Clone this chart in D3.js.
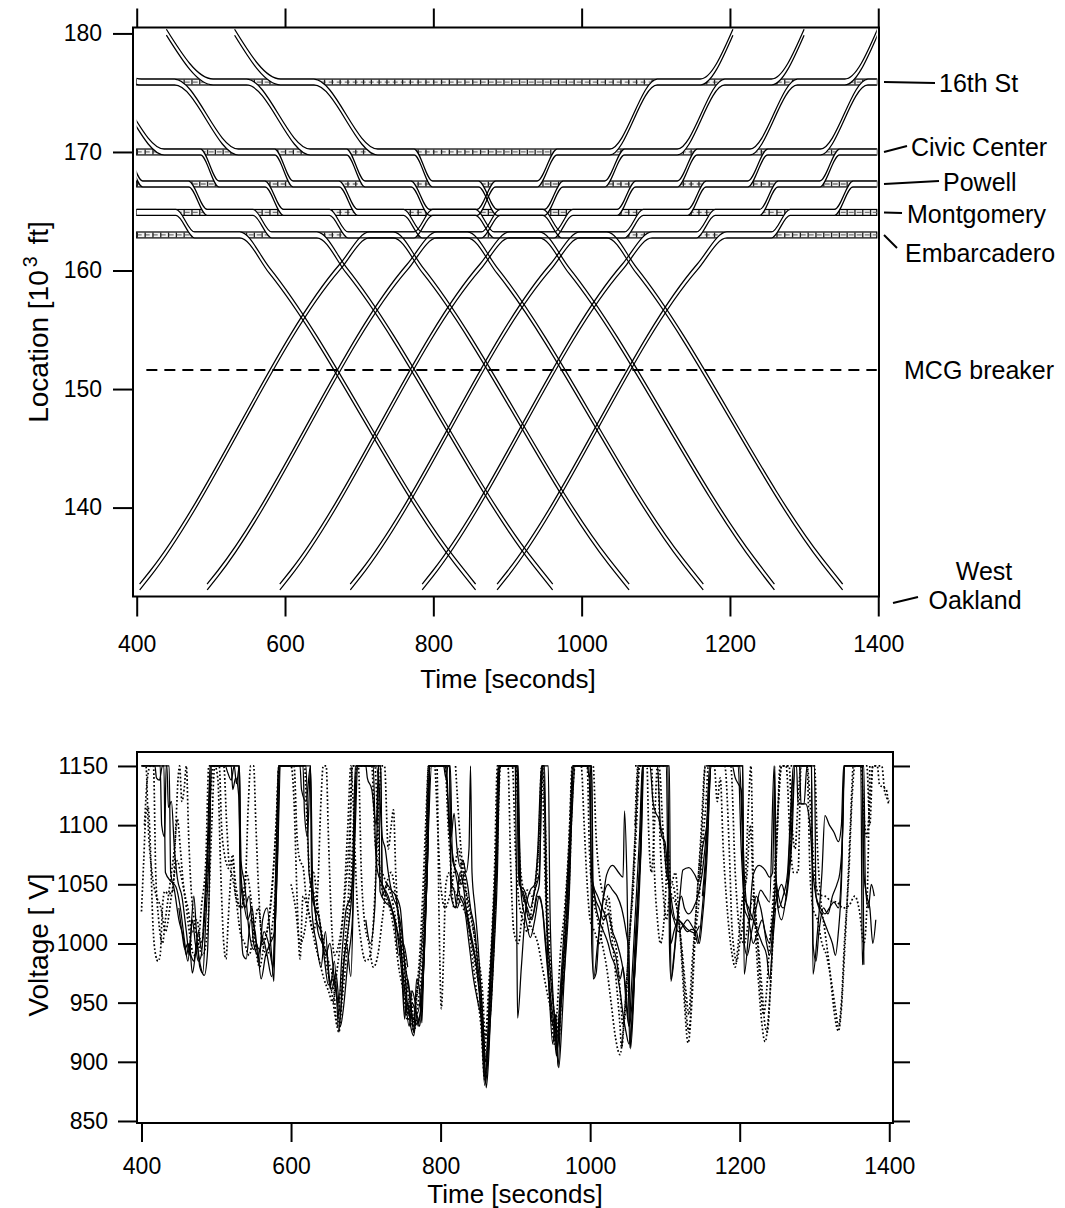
<!DOCTYPE html>
<html>
<head>
<meta charset="utf-8">
<script src="https://cdn.jsdelivr.net/npm/d3@7"></script>
<style>
  body { margin: 0; background: #fff; }
  svg text { font-family: "Liberation Sans", Arial, Helvetica, sans-serif; fill: #000; }
</style>
</head>
<body>
<svg id="chart" width="1065" height="1208"></svg>
<script>
// ---------- data ----------
const stationNames = ["16th St", "Civic Center", "Powell", "Montgomery", "Embarcadero"];
const stationLocs  = [175.9, 170.0, 167.3, 164.9, 163.0];   // 10^3 ft
const breakerLoc   = 151.6;
const platformLen  = 0.5;                                    // 10^3 ft

const timeTicks = [400, 600, 800, 1000, 1200, 1400];
const locTicks  = [140, 150, 160, 170, 180];
const voltTicks = [850, 900, 950, 1000, 1050, 1100, 1150];

// train runs toward West Oakland: [time s, location 10^3 ft]
const trainsToOakland = [
  [[36,180.1],[99,175.9],[144,175.9],[230,170.0],[279,170.0],[304,167.3],[366,167.3],[391,164.9],[453,164.9],[478,163.0],[539,163.0],[579,160.0],[829,135.5],[857,133.3]],
  [[140,180.1],[203,175.9],[248,175.9],[334,170.0],[383,170.0],[408,167.3],[470,167.3],[495,164.9],[557,164.9],[582,163.0],[643,163.0],[683,160.0],[933,135.5],[961,133.3]],
  [[243,180.1],[306,175.9],[351,175.9],[437,170.0],[486,170.0],[511,167.3],[573,167.3],[598,164.9],[660,164.9],[685,163.0],[746,163.0],[786,160.0],[1036,135.5],[1064,133.3]],
  [[343,180.1],[406,175.9],[451,175.9],[537,170.0],[586,170.0],[611,167.3],[673,167.3],[698,164.9],[760,164.9],[785,163.0],[846,163.0],[886,160.0],[1136,135.5],[1164,133.3]],
  [[440,180.1],[503,175.9],[548,175.9],[634,170.0],[683,170.0],[708,167.3],[770,167.3],[795,164.9],[857,164.9],[882,163.0],[943,163.0],[983,160.0],[1233,135.5],[1260,133.3]],
  [[532,180.1],[594,175.9],[639,175.9],[725,170.0],[774,170.0],[799,167.3],[861,167.3],[886,164.9],[948,164.9],[973,163.0],[1034,163.0],[1074,160.0],[1324,135.5],[1352,133.3]]
];

// train runs toward 16th St
const trainsTo16th = [
  [[404,133.3],[418,134.4],[674,160.3],[714,163.0],[774,163.0],[799,164.9],[859,164.9],[884,167.3],[940,167.3],[967,170.0],[1038,170.0],[1102,175.9],[1160,175.9],[1204,180.1]],
  [[495,133.3],[509,134.4],[765,160.3],[805,163.0],[865,163.0],[890,164.9],[950,164.9],[975,167.3],[1031,167.3],[1058,170.0],[1129,170.0],[1193,175.9],[1256,175.9],[1300,180.1]],
  [[593,133.3],[607,134.4],[863,160.3],[903,163.0],[963,163.0],[988,164.9],[1048,164.9],[1073,167.3],[1129,167.3],[1156,170.0],[1227,170.0],[1291,175.9],[1355,175.9],[1399,180.1]],
  [[688,133.3],[702,134.4],[958,160.3],[998,163.0],[1058,163.0],[1083,164.9],[1143,164.9],[1168,167.3],[1224,167.3],[1251,170.0],[1322,170.0],[1386,175.9],[1444,175.9]],
  [[785,133.3],[799,134.4],[1055,160.3],[1095,163.0],[1155,163.0],[1180,164.9],[1240,164.9],[1265,167.3],[1321,167.3],[1348,170.0],[1419,170.0]],
  [[886,133.3],[900,134.4],[1156,160.3],[1196,163.0],[1256,163.0],[1281,164.9],[1341,164.9],[1366,167.3],[1422,167.3]]
];

// pantograph voltage traces: [time s, volts]
const voltSolid = [
  [[400,1150],[430,1150],[432,1060],[440,1052],[446,1048],[452,1030],[458,1000],[462,985],[466,1010],[470,1040],[474,1005],[480,978],[484,973],[488,990],[491,1060],[493,1150],[530,1150],[532,1044],[536,990],[540,987],[546,1020],[552,1010],[557,982],[562,1020],[568,1030],[574,990],[577,968],[580,1060],[583,1150],[626,1150],[628,1027],[634,1000],[640,980],[646,1010],[652,962],[658,985],[664,925],[668,960],[674,1000],[680,972],[684,1060],[687,1150],[717,1150],[719,1044],[726,1035],[734,1030],[742,1010],[748,975],[752,936],[756,970],[760,950],[764,925],[768,970],[772,960],[775,933],[778,1000],[783,1080],[785,1150],[812,1150],[814,1040],[820,1030],[826,1060],[830,1050],[836,1020],[842,1000],[848,980],[854,940],[859,880],[864,930],[868,990],[872,1040],[876,1100],[878,1150],[903,1150],[905,1050],[912,1045],[920,1030],[926,1045],[932,1060],[936,1150],[939,1150],[942,1020],[946,950],[950,915],[954,940],[957,896],[961,950],[966,1000],[972,1050],[976,1150],[1000,1150],[1002,1000],[1005,972],[1010,1000],[1016,1030],[1022,1058],[1030,1066],[1038,1060],[1044,1056],[1046,1112],[1049,1060],[1053,912],[1058,960],[1064,1020],[1068,1080],[1071,1150],[1106,1150],[1108,968],[1114,1000],[1120,1040],[1124,1062],[1132,1064],[1140,1058],[1145,1052],[1150,1080],[1156,1100],[1162,1150],[1204,1150],[1206,974],[1212,1010],[1218,1058],[1226,1066],[1234,1062],[1240,1056],[1244,1060],[1247,1150],[1249,1040],[1256,1020],[1262,1040],[1268,1080],[1274,1150],[1296,1150],[1298,974],[1304,1010],[1310,1060],[1314,1108],[1320,1100],[1326,1094],[1332,1086],[1336,1100],[1339,1150],[1364,1150],[1366,982]],
  [[400,1150],[418,1150],[420,1140],[424,1138],[428,1150],[434,1150],[436,1115],[440,1120],[444,1080],[448,1055],[454,1040],[460,1010],[464,990],[468,1020],[472,1000],[476,985],[480,990],[484,1030],[488,1080],[492,1150],[520,1150],[522,1130],[526,1140],[530,1125],[533,1050],[538,1030],[544,1040],[550,1000],[556,990],[562,1005],[568,990],[574,972],[578,1000],[582,1080],[585,1150],[620,1150],[624,1060],[630,1040],[636,1010],[642,1000],[648,990],[654,960],[660,975],[666,940],[670,980],[676,1010],[682,1050],[686,1150],[710,1150],[713,1080],[716,1060],[722,1050],[728,1040],[734,1030],[740,1015],[746,1000],[752,960],[758,930],[762,950],[768,940],[774,960],[780,1040],[786,1150],[808,1150],[811,1100],[815,1080],[820,1060],[826,1040],[832,1030],[838,1000],[844,970],[850,950],[856,930],[860,890],[864,920],[868,980],[874,1050],[880,1150],[900,1150],[902,1000],[903,937],[908,980],[914,1030],[920,1045],[926,1050],[930,1080],[935,1150],[938,1150],[941,1040],[946,980],[952,940],[956,920],[960,960],[966,1020],[972,1080],[978,1150],[1000,1150]],
  [[450,1030],[454,1010],[458,995],[462,1000],[466,990],[470,985],[474,1000],[478,980],[482,975],[486,1020],[490,1070],[494,1150],[524,1150],[527,1135],[531,1150],[533,1060],[536,1040],[542,1020],[548,1030],[552,1005],[558,995],[564,1010],[570,1000],[576,980],[579,1050],[585,1150],[616,1150],[618,1110],[622,1090],[626,1150],[628,1040],[632,1030],[638,1020],[644,990],[650,965],[656,970],[662,950],[666,930],[670,945],[676,985],[682,1020],[688,1150],[714,1150],[718,1130],[722,1090],[726,1080],[730,1060],[736,1040],[742,1030],[748,1010],[752,985],[758,960],[764,930],[770,935],[774,945],[778,990],[782,1060],[786,1150],[812,1150],[814,1050],[818,1045],[822,1030],[828,1040],[834,1030],[840,1010],[846,990],[852,960],[856,920],[860,882],[864,910],[868,950],[872,1000],[876,1060],[879,1150],[904,1150],[906,1050],[912,1040],[918,1020],[924,1025],[930,1040],[936,1030],[942,990],[948,950],[952,930],[956,910],[960,940],[966,980],[972,1040],[978,1150],[998,1150],[1002,1060],[1006,1040],[1012,1030],[1018,1020],[1024,1025],[1030,1010],[1036,1000],[1042,985],[1048,960],[1052,930],[1056,950],[1060,1000],[1066,1060],[1071,1150],[1090,1150],[1094,1100],[1098,1090],[1102,1060],[1106,1050],[1108,1000],[1112,1010],[1118,1020],[1124,1015],[1130,1010],[1136,1012],[1142,1010],[1146,1000],[1150,1020],[1156,1070],[1162,1150],[1198,1150],[1202,1080],[1206,1040],[1212,1030],[1218,1020],[1224,1010],[1230,1000],[1236,990],[1240,970],[1244,1000],[1248,1030]],
  [[700,1020],[706,1000],[712,1030],[718,1150],[720,1150],[722,1040],[728,1050],[734,1045],[740,1040],[744,1020],[748,990],[752,940],[756,950],[760,930],[764,922],[768,940],[772,930],[776,960],[780,1020],[784,1100],[788,1150],[806,1150],[810,1120],[814,1090],[818,1110],[822,1080],[826,1065],[830,1070],[834,1060],[838,1080],[840,1150],[842,1060],[846,1030],[850,1000],[854,960],[858,920],[861,878],[864,900],[868,960],[872,1020],[876,1100],[880,1150],[902,1150],[904,1060],[910,1040],[916,1030],[922,1020],[928,1040],[932,1050],[936,1150],[944,1150],[946,1040],[950,960],[954,925],[958,895],[962,930],[966,980],[970,1040],[975,1100],[980,1150],[1002,1150],[1004,970],[1008,975],[1012,1010],[1018,1040],[1024,1050],[1030,1045],[1036,1040],[1042,1030],[1048,1010],[1052,990],[1054,911],[1058,950],[1062,1020],[1068,1080],[1072,1150],[1080,1150],[1084,1120],[1088,1110],[1092,1105],[1096,1090],[1100,1086],[1104,1060],[1106,1048],[1108,1030],[1112,1020],[1118,1010],[1124,1015],[1130,1020],[1136,1015],[1140,1010],[1144,1000],[1150,1030],[1156,1080],[1162,1150],[1190,1150],[1194,1140],[1198,1135],[1202,1130],[1206,1060],[1210,1030],[1216,1020],[1222,1040],[1228,1030],[1234,1010],[1240,1000],[1244,1020],[1250,1040],[1256,1050],[1262,1040],[1268,1100],[1272,1150],[1280,1150],[1282,1118],[1288,1118],[1294,1100],[1298,1060],[1302,1040],[1308,1030],[1314,1025],[1320,1030],[1326,1035],[1332,1030],[1336,1060],[1340,1150],[1366,1150],[1368,1050],[1372,1030],[1376,1050],[1380,1040]],
  [[1000,1060],[1004,1050],[1008,1030],[1012,1020],[1018,1010],[1024,1000],[1028,990],[1034,980],[1040,960],[1044,940],[1048,925],[1052,915],[1056,935],[1060,980],[1064,1040],[1068,1100],[1070,1150],[1104,1150],[1106,1000],[1108,970],[1112,990],[1118,1030],[1122,1040],[1126,1030],[1132,1025],[1138,1030],[1144,1040],[1150,1060],[1156,1100],[1160,1150],[1204,1150],[1206,1000],[1210,990],[1216,1010],[1222,1030],[1228,1045],[1234,1040],[1240,1035],[1246,1150],[1248,1060],[1252,1040],[1258,1030],[1264,1045],[1270,1090],[1274,1150],[1296,1150],[1298,1000],[1302,985],[1306,1010],[1312,1030],[1318,1025],[1324,1040],[1330,1050],[1334,1060],[1338,1100],[1340,1150],[1362,1150],[1364,982],[1366,1000]],
  [[400,1150],[425,1150],[427,1100],[431,1090],[433,1150],[437,1150],[439,1060],[444,1045],[450,1020],[456,1005],[460,990],[464,1000],[468,975],[472,990],[476,1010],[480,995],[486,1040],[490,1100],[492,1150],[512,1150],[515,1145],[520,1138],[524,1150],[531,1150],[533,1070],[538,1050],[544,1010],[550,995],[554,1000],[560,970],[566,990],[572,1000],[578,1010],[582,1070],[586,1150],[612,1150],[614,1130],[620,1120],[626,1150],[629,1050],[634,1020],[640,1010],[646,990],[652,1000],[658,970],[664,950],[668,990],[674,1030],[680,1040],[686,1100],[689,1150],[700,1150],[702,1140],[708,1130],[714,1100],[717,1150],[720,1150],[722,1050],[730,1040],[738,1020],[744,990],[750,1000],[756,980]],
  [[740,1040],[746,1030],[750,1000],[754,960],[758,940],[762,960],[766,950],[770,930],[774,950],[778,990],[782,1060],[786,1150],[804,1150],[807,1140],[810,1150],[813,1150],[816,1070],[822,1060],[828,1050],[832,1060],[836,1050],[840,1030],[846,1010],[850,980],[854,960],[857,930],[860,900],[863,920],[866,970],[870,1020],[874,1080],[877,1150],[902,1150],[905,1100],[908,1040],[914,1020],[920,1005],[926,1020],[932,1040],[936,1030],[940,1000],[944,970],[948,940],[952,925],[955,905],[958,930],[962,970],[968,1020],[974,1100],[978,1150],[996,1150],[999,1140],[1002,1150],[1004,1050],[1010,1040],[1016,1030],[1022,1020],[1028,1000],[1034,990],[1040,970],[1044,980],[1048,950],[1052,930],[1055,960],[1060,1020],[1066,1090],[1070,1150],[1102,1150],[1104,1060],[1108,1040],[1114,1020],[1120,1019],[1130,1012],[1140,1009],[1146,1015]],
  [[1150,1040],[1155,1080],[1160,1150],[1200,1150],[1203,1100],[1206,1030],[1212,1020],[1218,1000],[1224,1010],[1230,1020],[1236,1000],[1240,990],[1244,1010],[1248,1050],[1252,1030],[1258,1040],[1264,1060],[1268,1110],[1272,1150],[1276,1150],[1278,1118],[1286,1118],[1290,1150],[1300,1150],[1302,1040],[1306,1030],[1312,1020],[1318,1010],[1324,1000],[1328,990],[1332,1010],[1336,1050],[1340,1150],[1364,1150],[1366,1060],[1370,1040],[1374,1030],[1378,1000],[1382,1020]]
];

const voltDotted = [
  [[400,1027],[403,1070],[406,1110],[409,1115],[412,1080],[415,1020],[419,990],[422,985],[425,990],[428,1030],[431,1044],[436,1042],[442,1045],[446,1100],[449,1140],[451,1150],[454,1120],[457,1130],[460,1150],[463,1092],[466,1050],[470,1022],[476,1000],[482,990],[488,1010],[494,1100],[498,1150],[502,1140],[506,1060],[510,1000],[513,987],[516,1020],[518,1042],[522,1070],[526,1050],[532,1030],[538,1040],[543,1120],[546,1150],[550,1150],[553,1100],[557,1040],[562,1000],[568,1010],[574,1040],[580,1100],[584,1150],[600,1150],[604,1120],[608,1040],[612,987],[616,1040],[622,1030],[630,1010],[636,1050],[640,1120],[643,1150],[647,1150],[650,1090],[654,1020],[658,990],[664,1000],[670,1030],[676,1100],[680,1150],[683,1120],[688,1040],[694,1000],[700,985],[706,990],[712,1040],[716,1100],[720,1150]],
  [[700,1150],[725,1150],[730,1080],[734,1100],[737,1113],[740,1060],[744,1020],[748,1000],[752,970],[756,940],[760,960],[764,935],[768,960],[772,990],[776,1040],[780,1100],[784,1150],[795,1150],[798,1020],[801,945],[804,990],[807,1050],[812,1060],[818,1030],[824,1040],[830,1070],[836,1030],[842,1000],[848,975],[854,950],[858,905],[862,930],[866,970],[870,1010],[875,1080],[878,1150],[890,1150],[894,1060],[898,1010],[904,1000],[910,1030],[916,1045],[922,1040],[928,1050],[932,1100],[935,1150],[940,1050],[946,960],[950,930],[954,940],[958,920],[962,960],[966,1010],[970,1060],[974,1120],[977,1150],[996,1150],[999,1080],[1004,1040],[1010,1020],[1016,1000],[1022,980],[1028,950],[1034,920],[1040,906],[1044,925],[1048,960],[1052,1000],[1056,1040],[1060,1090],[1064,1150]],
  [[1060,1150],[1082,1150],[1086,1060],[1090,1020],[1094,1000],[1100,1030],[1104,1080],[1108,1050],[1114,1060],[1118,1030],[1122,990],[1126,950],[1131,916],[1136,950],[1140,1000],[1146,1040],[1150,1080],[1155,1120],[1158,1150],[1180,1150],[1186,1080],[1190,1010],[1196,985],[1200,1000],[1206,1030],[1212,1120],[1215,1150],[1218,1060],[1222,1000],[1226,960],[1230,930],[1234,917],[1238,935],[1242,975],[1246,1030],[1250,1090],[1254,1150],[1262,1150],[1268,1080],[1272,1060],[1278,1060],[1282,1150],[1300,1150],[1304,1080],[1308,1040],[1314,1010],[1320,980],[1324,955],[1328,935],[1332,926],[1336,945],[1340,990],[1344,1040],[1348,1100],[1352,1150],[1370,1150],[1374,1100],[1378,1150],[1384,1150],[1387,1134],[1392,1132],[1396,1130],[1399,1117]],
  [[820,1150],[826,1090],[832,1050],[838,1030],[844,1010],[850,990],[856,960],[860,920],[864,960],[868,1000],[872,1060],[876,1150],[900,1150],[906,1070],[912,1040],[918,1020],[924,1010],[930,1000],[936,980],[942,960],[948,940],[952,915],[956,945],[960,990],[966,1030],[972,1090],[976,1150],[988,1150],[992,1100],[996,1050],[1000,1020],[1006,1010],[1012,1000],[1018,1020],[1024,1040],[1030,1010],[1036,990],[1040,960],[1044,930],[1048,950],[1052,1000],[1058,1050],[1062,1100],[1066,1150],[1092,1150],[1098,1090],[1104,1050],[1110,1040],[1116,1030],[1122,1000],[1128,960],[1132,940],[1136,980],[1142,1030],[1148,1090],[1154,1150],[1188,1150],[1194,1060],[1200,1010],[1206,1000],[1212,1020],[1218,1040],[1224,1000],[1228,960],[1232,940],[1236,960],[1240,1000],[1246,1050],[1250,1100],[1256,1150],[1290,1150],[1296,1100],[1300,1060],[1306,1041],[1314,1040],[1322,1036],[1330,1035],[1338,1030],[1346,1032],[1354,1040],[1360,1028],[1366,1000],[1370,1030],[1374,1150]],
  [[402,1150],[406,1150],[409,1100],[414,1060],[420,1040],[426,1030],[432,1010],[440,1040],[448,1070],[452,1060],[458,1040],[464,1010],[470,990],[476,1000],[480,1030],[486,1070],[490,1150],[510,1150],[514,1100],[518,1065],[522,1075],[526,1040],[534,1030],[540,1060],[546,1040],[552,1000],[558,980],[564,1000],[570,1020],[576,1060],[580,1100],[584,1150],[618,1150],[622,1090],[626,1050],[632,1040],[638,1020],[644,1000],[650,985],[656,970],[662,930],[666,960],[672,1000],[678,1060],[682,1150],[712,1150],[716,1100],[720,1050],[726,1040],[732,1030],[738,1010],[744,980],[750,960],[756,935],[760,945],[764,925],[770,950],[776,990],[780,1060],[784,1150],[806,1150],[810,1100],[816,1050],[822,1040],[830,1030],[836,1020],[842,990],[848,960],[854,930],[859,885],[864,920],[870,980],[874,1050],[878,1150],[900,1150]],
  [[600,1050],[606,1030],[612,1000],[618,1010],[624,1040],[630,1060],[636,1030],[642,1000],[648,980],[654,960],[660,935],[664,925],[668,950],[674,990],[680,1050],[684,1110],[688,1150],[708,1150],[712,1090],[716,1070],[722,1060],[728,1050],[734,1040],[740,1020],[746,990],[752,960],[758,940],[762,930],[766,945],[772,980],[778,1040],[782,1110],[786,1150],[792,1150],[796,1100],[800,1050],[806,1030],[812,1040],[818,1060],[824,1080],[830,1050],[836,1040],[842,1020],[848,990],[852,960],[856,935],[860,900],[864,925],[868,960],[872,1010],[876,1080],[880,1150],[896,1150],[900,1080],[904,1040],[910,1020],[916,1010],[922,1030],[928,1060],[932,1090],[936,1150],[940,1100],[944,1020],[948,970],[952,940],[956,925],[960,950],[966,990],[972,1050],[976,1120],[980,1150],[1004,1150],[1008,1090],[1012,1060],[1018,1040],[1024,1030],[1030,1000],[1036,960],[1040,930],[1042,912],[1046,940],[1050,980],[1056,1040],[1062,1110],[1066,1150],[1100,1150]],
  [[1060,1100],[1064,1150],[1076,1150],[1078,1100],[1082,1060],[1086,1100],[1090,1150],[1094,1080],[1098,1040],[1102,1020],[1106,1040],[1110,1050],[1116,1030],[1120,1010],[1124,980],[1128,945],[1132,925],[1136,960],[1140,1010],[1144,1050],[1150,1100],[1154,1150],[1166,1150],[1170,1120],[1174,1140],[1178,1080],[1182,1040],[1186,1010],[1190,990],[1194,980],[1198,1000],[1204,1040],[1210,1060],[1214,1100],[1218,1050],[1222,1020],[1226,990],[1230,960],[1234,930],[1237,925],[1240,950],[1244,1000],[1248,1060],[1252,1120],[1256,1150],[1266,1150],[1270,1100],[1274,1080],[1278,1120],[1282,1150],[1290,1150],[1294,1060],[1298,1030],[1304,1020],[1310,1000],[1316,990],[1322,970],[1328,945],[1332,930],[1336,950],[1340,1000],[1346,1060],[1350,1120],[1354,1150],[1362,1150],[1366,1110],[1370,1090],[1374,1120],[1378,1150],[1390,1150],[1394,1128],[1400,1120]],
  [[404,1100],[408,1140],[412,1150],[416,1150],[419,1060],[423,1020],[428,1000],[432,1020],[438,1050],[444,1080],[448,1105],[452,1080],[456,1050],[462,1030],[468,1010],[474,1020],[480,1000],[486,1040],[492,1120],[496,1150],[504,1150],[507,1100],[511,1075],[515,1065],[520,1060],[526,1040],[532,1010],[538,1000],[544,990],[550,1010],[556,1030],[562,1000],[568,990],[574,1010],[580,1060],[584,1150],[604,1150],[608,1090],[612,1070],[616,1065],[620,1040],[626,1020],[632,1000],[638,985],[644,970],[650,960],[656,950],[660,970],[666,1000],[672,1040],[678,1090],[682,1150],[690,1150],[694,1060],[698,1020],[704,1000],[710,980],[716,990],[722,1020],[728,1050],[734,1060],[740,1040],[746,1010],[752,990],[756,960],[760,940],[764,935],[768,955],[774,990],[780,1060],[784,1150],[800,1150]]
];

// ---------- layout ----------
const svg = d3.select("#chart");
const FONT_TICK = 23, FONT_TITLE = 26, FONT_YTITLE = 28, FONT_LABEL = 25;
const fmt = d3.format("d");

const xTop = d3.scaleLinear().domain([395, 1401]).range([133, 879]);
const yLoc = d3.scaleLinear().domain([132.5, 180.5]).range([596.5, 27.5]);

const xBot = d3.scaleLinear().domain([394, 1405]).range([137, 893]);
const yVolt = d3.scaleLinear().domain([848.3, 1161.8]).range([1123, 752]);

function styleAxis(g, fs) {
  g.select(".domain").remove();
  g.selectAll(".tick line").attr("stroke", "#000").attr("stroke-width", 2);
  g.selectAll(".tick text").attr("font-size", fs).attr("fill", "#000")
    .attr("font-family", "'Liberation Sans', Arial, sans-serif");
}

// ---------- upper panel: train trajectories ----------
const gTop = svg.append("g");
const defs = svg.append("defs");
defs.append("clipPath").attr("id", "clipTrains").append("rect")
  .attr("x", xTop(400)).attr("y", yLoc(180.5)).attr("width", xTop(1398) - xTop(400)).attr("height", yLoc(132.5) - yLoc(180.5));
defs.append("clipPath").attr("id", "clipVolt").append("rect")
  .attr("x", 137).attr("y", 752).attr("width", 756).attr("height", 371);

// platforms
const half = platformLen / 2;
const plat = gTop.append("g");
stationLocs.forEach(loc => {
  const h = yLoc(loc - half) - yLoc(loc + half);
  plat.append("rect")
    .attr("x", xTop(400)).attr("width", xTop(1398) - xTop(400))
    .attr("y", yLoc(loc + half)).attr("height", h)
    .attr("fill", "#f2f2f2").attr("stroke", "#000").attr("stroke-width", 1.2);
  plat.append("line")
    .attr("x1", xTop(400)).attr("x2", xTop(1398)).attr("y1", yLoc(loc)).attr("y2", yLoc(loc))
    .attr("stroke", "#777").attr("stroke-width", 1.3).attr("stroke-dasharray", "5 3");
  plat.append("line")
    .attr("x1", xTop(400)).attr("x2", xTop(1398)).attr("y1", yLoc(loc)).attr("y2", yLoc(loc))
    .attr("stroke", "#222").attr("stroke-width", h - 1)
    .attr("stroke-dasharray", "1.3 6.5");
});

const allTrains = trainsToOakland.concat(trainsTo16th);
const trainBand = d3.area().curve(d3.curveMonotoneX)
  .x(d => xTop(d[0])).y0(d => yLoc(d[1] - half)).y1(d => yLoc(d[1] + half));
const trainEdge = off => d3.line().curve(d3.curveMonotoneX)
  .x(d => xTop(d[0])).y(d => yLoc(d[1] + off));

const trainLayer = gTop.append("g").attr("clip-path", "url(#clipTrains)");
trainLayer.selectAll("path.band").data(allTrains).join("path")
  .attr("class", "band").attr("d", trainBand).attr("fill", "#fff").attr("stroke", "none");

// breaker location
gTop.append("line")
  .attr("x1", xTop(413)).attr("x2", xTop(1398)).attr("y1", yLoc(breakerLoc)).attr("y2", yLoc(breakerLoc))
  .attr("stroke", "#000").attr("stroke-width", 2).attr("stroke-dasharray", "11 7");

[half, -half].forEach((off, k) => {
  trainLayer.selectAll("path.edge" + k).data(allTrains).join("path").attr("class", "edge" + k)
    .attr("d", trainEdge(off)).attr("fill", "none").attr("stroke", "#000").attr("stroke-width", 1.25);
});

// frame + axes
gTop.append("rect").attr("x", 133).attr("y", 27.5).attr("width", 746).attr("height", 569)
  .attr("fill", "none").attr("stroke", "#000").attr("stroke-width", 2);

gTop.append("g").attr("transform", "translate(133,0)")
  .call(d3.axisLeft(yLoc).tickValues(locTicks).tickSize(20).tickPadding(11).tickFormat(fmt))
  .call(g => styleAxis(g, FONT_TICK));
gTop.append("g").attr("transform", "translate(0,27.5)")
  .call(d3.axisTop(xTop).tickValues(timeTicks).tickSize(19).tickFormat(""))
  .call(g => styleAxis(g, FONT_TICK));
gTop.append("g").attr("transform", "translate(0,596.5)")
  .call(d3.axisBottom(xTop).tickValues(timeTicks).tickSize(20).tickPadding(19).tickFormat(fmt))
  .call(g => styleAxis(g, FONT_TICK));

gTop.append("text").attr("x", 508).attr("y", 688).attr("text-anchor", "middle")
  .attr("font-size", FONT_TITLE).text("Time [seconds]");
const yt = gTop.append("text").attr("transform", "translate(48,322) rotate(-90)")
  .attr("text-anchor", "middle").attr("font-size", FONT_YTITLE);
yt.append("tspan").text("Location [10");
yt.append("tspan").attr("dx", 3).attr("dy", "-0.55em").attr("font-size", FONT_YTITLE * 0.7).text("3");
yt.append("tspan").attr("dx", 4).attr("dy", "0.38em").text(" ft]");

// station labels with leader lines
const leaderEnds = [[935, 83], [907, 146], [939, 181], [902, 213], [897, 248]];
const labelPos   = [[939, 92], [911, 156], [943, 191], [907, 223], [905, 262]];
stationLocs.forEach((loc, i) => {
  gTop.append("line").attr("x1", 884).attr("y1", yLoc(loc))
    .attr("x2", leaderEnds[i][0]).attr("y2", leaderEnds[i][1])
    .attr("stroke", "#000").attr("stroke-width", 2);
  gTop.append("text").attr("x", labelPos[i][0]).attr("y", labelPos[i][1])
    .attr("font-size", FONT_LABEL).text(stationNames[i]);
});
gTop.append("text").attr("x", 904).attr("y", 379).attr("font-size", FONT_LABEL).text("MCG breaker");
gTop.append("line").attr("x1", 893).attr("y1", 603).attr("x2", 918).attr("y2", 597)
  .attr("stroke", "#000").attr("stroke-width", 2);
gTop.append("text").attr("x", 984).attr("y", 580).attr("text-anchor", "middle").attr("font-size", FONT_LABEL).text("West");
gTop.append("text").attr("x", 975).attr("y", 609).attr("text-anchor", "middle").attr("font-size", FONT_LABEL).text("Oakland");

// ---------- lower panel: voltage ----------
const gBot = svg.append("g");
const vLine = d3.line().curve(d3.curveMonotoneX).x(d => xBot(d[0])).y(d => yVolt(d[1]));
const vLayer = gBot.append("g").attr("clip-path", "url(#clipVolt)");
vLayer.selectAll("path.dot").data(voltDotted).join("path").attr("class", "dot")
  .attr("d", vLine).attr("fill", "none").attr("stroke", "#000")
  .attr("stroke-width", 1.7).attr("stroke-dasharray", "1.7 2.2");
vLayer.selectAll("path.sol").data(voltSolid).join("path").attr("class", "sol")
  .attr("d", vLine).attr("fill", "none").attr("stroke", "#000").attr("stroke-width", 1.25);

gBot.append("rect").attr("x", 137).attr("y", 752).attr("width", 756).attr("height", 371)
  .attr("fill", "none").attr("stroke", "#000").attr("stroke-width", 2);
gBot.append("g").attr("transform", "translate(137,0)")
  .call(d3.axisLeft(yVolt).tickValues(voltTicks).tickSize(19).tickPadding(10).tickFormat(fmt))
  .call(g => styleAxis(g, FONT_TICK));
gBot.append("g").attr("transform", "translate(893,0)")
  .call(d3.axisRight(yVolt).tickValues(voltTicks).tickSize(17).tickFormat(""))
  .call(g => styleAxis(g, FONT_TICK));
gBot.append("g").attr("transform", "translate(0,1123)")
  .call(d3.axisBottom(xBot).tickValues(timeTicks).tickSize(19).tickPadding(16).tickFormat(fmt))
  .call(g => styleAxis(g, FONT_TICK));
gBot.append("text").attr("x", 515).attr("y", 1203).attr("text-anchor", "middle")
  .attr("font-size", FONT_TITLE).text("Time [seconds]");
gBot.append("text").attr("transform", "translate(48,945) rotate(-90)")
  .attr("text-anchor", "middle").attr("font-size", FONT_YTITLE).text("Voltage [ V]");
</script>
</body>
</html>
